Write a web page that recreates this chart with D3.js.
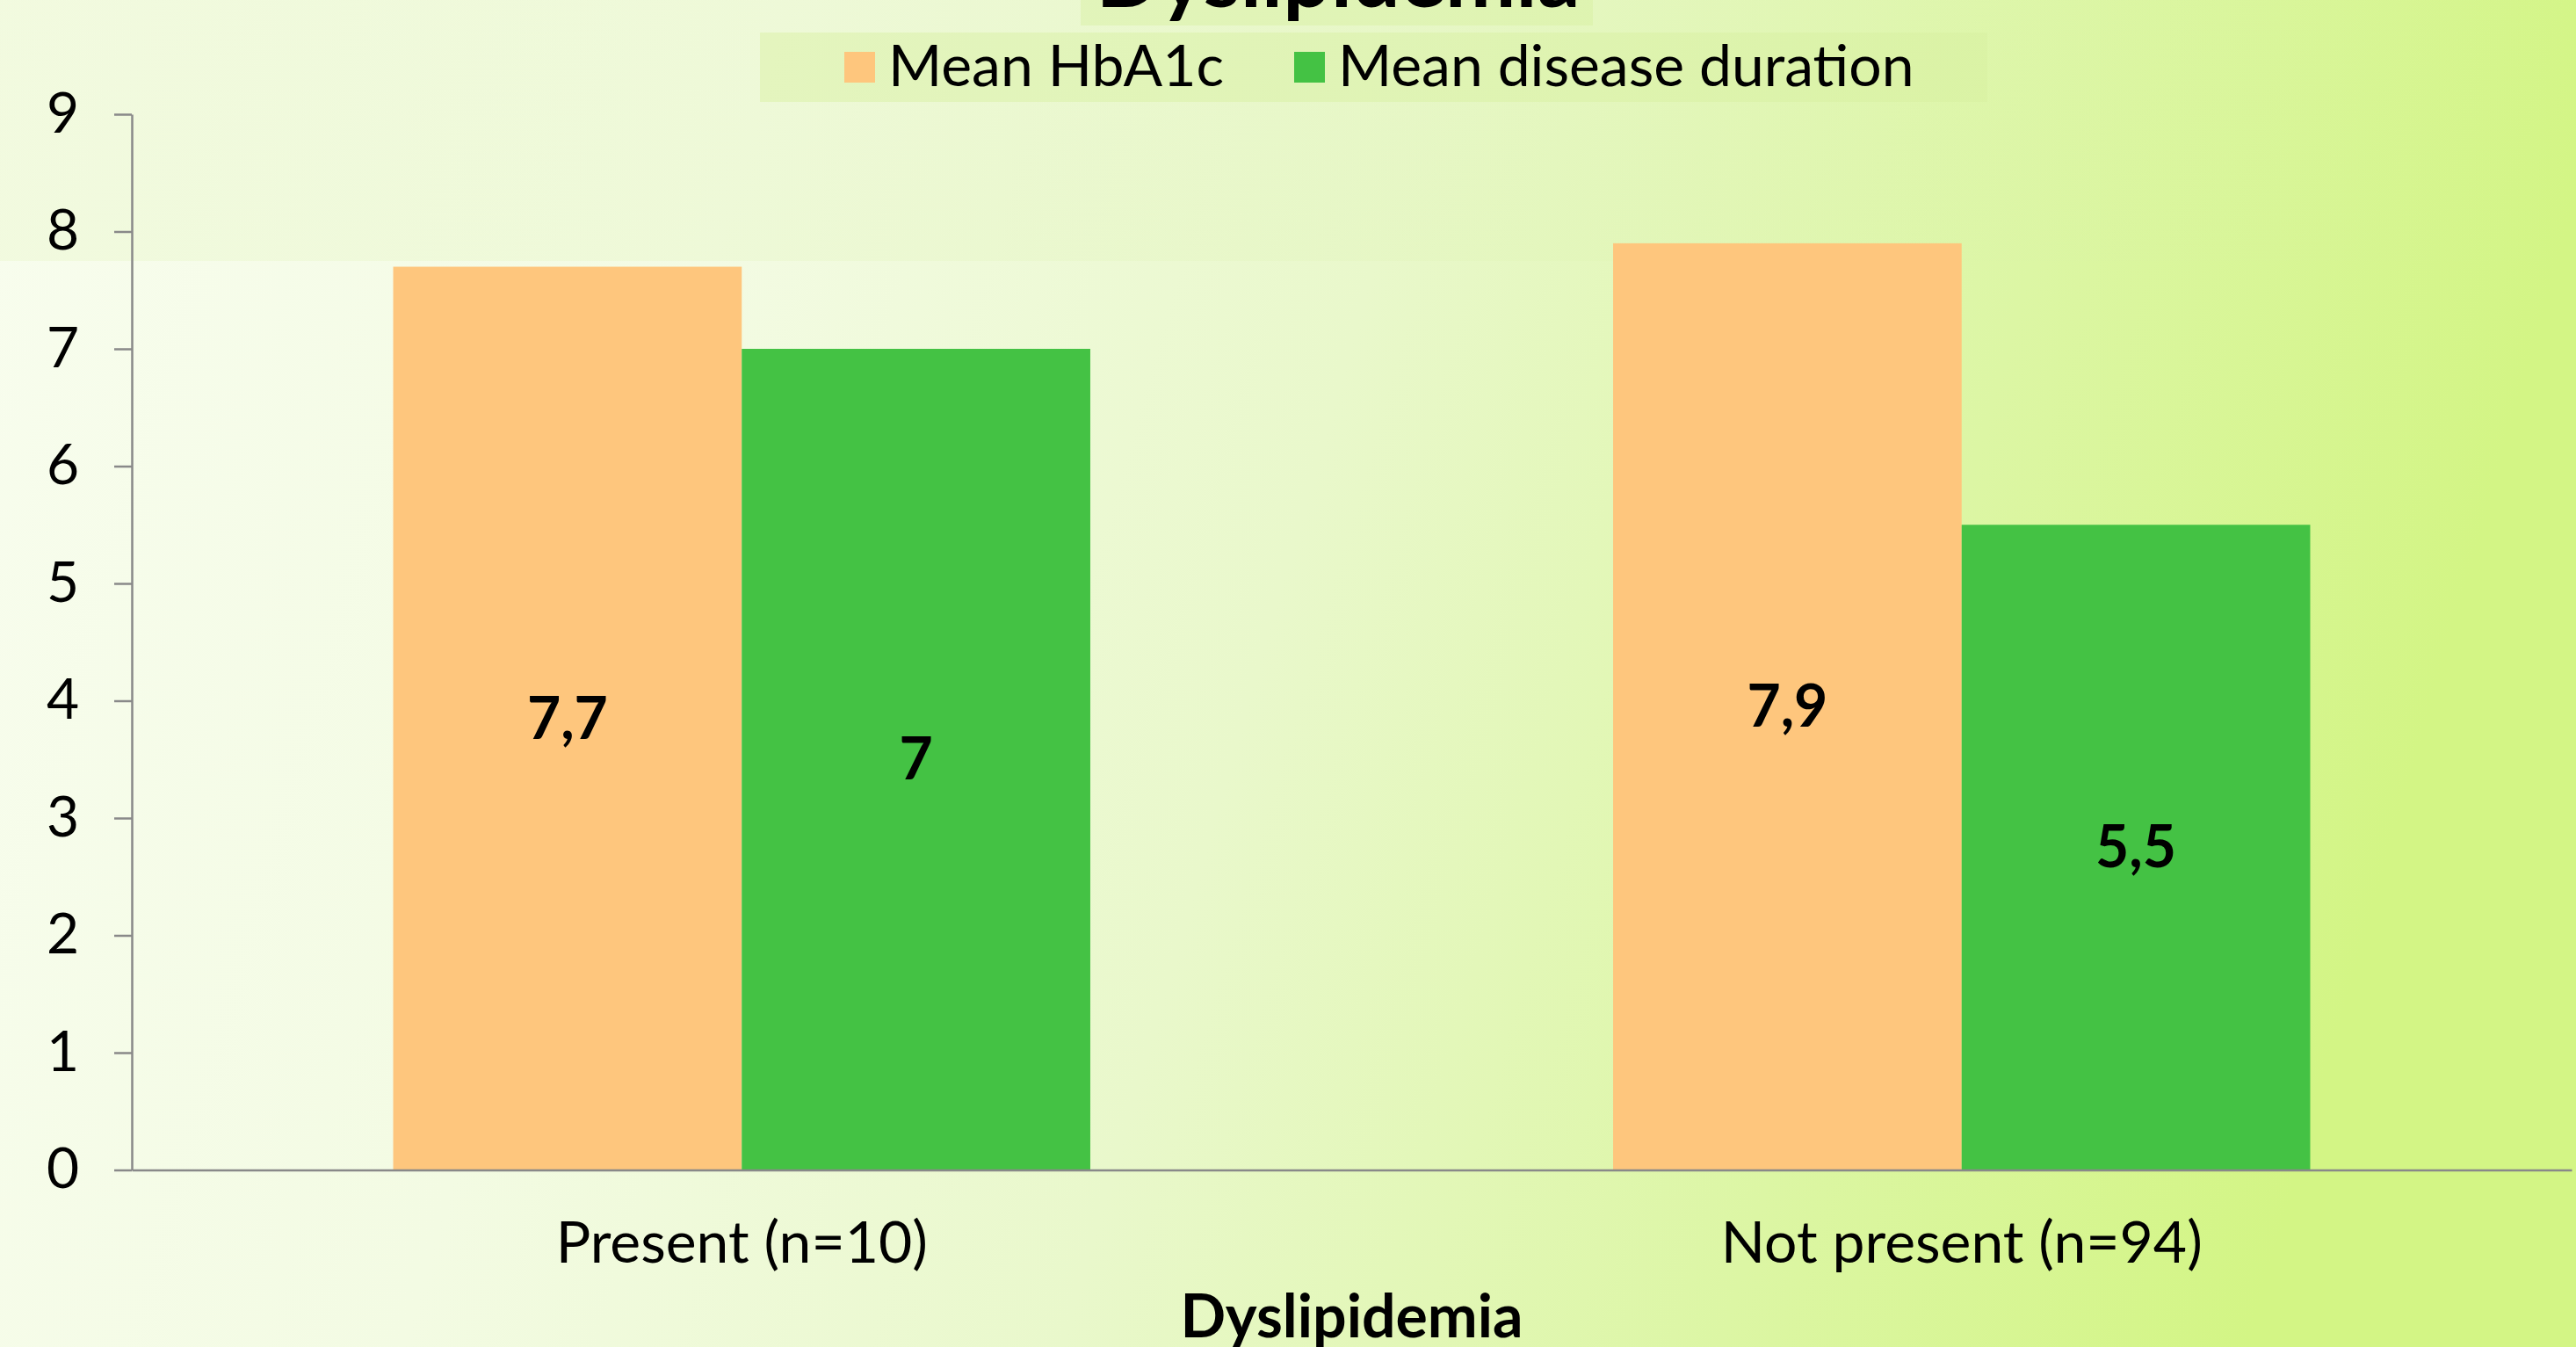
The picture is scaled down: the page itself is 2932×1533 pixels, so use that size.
<!DOCTYPE html>
<html>
<head>
<meta charset="utf-8">
<script src="https://cdn.jsdelivr.net/npm/d3@7"></script>
<style>
  html, body { margin: 0; padding: 0; overflow: hidden; }
  svg { display: block; }
  text { font-family: Lato, "Open Sans", sans-serif; fill: #000; }
</style>
</head>
<body>
<script>
// ---- data ----
const categories = ["Present (n=10)", "Not present (n=94)"];
const seriesNames = ["Mean HbA1c", "Mean disease duration"];
const meanHbA1c = [7.7, 7.9];
const meanDiseaseDuration = [7, 5.5];
const yTickValues = [0, 1, 2, 3, 4, 5, 6, 7, 8, 9];
const chartTitle = "Dyslipidemia";
const xAxisTitle = "Dyslipidemia";
const seriesColors = ["#FEC67D", "#44C244"];

// ---- layout ----
const W = 2932, H = 1533;
const plot = { left: 150, right: 2927, top: 130, bottom: 1331.5 };

const svg = d3.select("body").append("svg").attr("width", W).attr("height", H);

// background gradient
const defs = svg.append("defs");
const bg = defs.append("linearGradient").attr("id", "bg").attr("x1", "0").attr("y1", "0").attr("x2", "1").attr("y2", "0.15");
[["0%", "#f8fdee"], ["30%", "#f3fbe3"], ["55%", "#e9f8cb"], ["80%", "#dcf6a4"], ["100%", "#d3f585"]]
  .forEach(([o, c]) => bg.append("stop").attr("offset", o).attr("stop-color", c));
svg.append("rect").attr("width", W).attr("height", H).attr("fill", "url(#bg)");
// subtle darker band at the top
const band = defs.append("linearGradient").attr("id", "band").attr("x1", "0").attr("x2", "1");
band.append("stop").attr("offset", "0%").attr("stop-color", "#e6f5c4").attr("stop-opacity", 0.35);
band.append("stop").attr("offset", "60%").attr("stop-color", "#d8f0a6").attr("stop-opacity", 0.15);
band.append("stop").attr("offset", "100%").attr("stop-color", "#d8f0a6").attr("stop-opacity", 0);
svg.append("rect").attr("x", 0).attr("y", 0).attr("width", W).attr("height", 297).attr("fill", "url(#band)");

// scales
const y = d3.scaleLinear().domain([0, 9]).range([plot.bottom, plot.top]);
const x0 = d3.scaleBand().domain(categories).range([plot.left, plot.right]).padding(0);
const x1 = d3.scaleBand().domain(seriesNames).range([0, x0.bandwidth()]).paddingInner(0).paddingOuter(0.75);
const color = d3.scaleOrdinal().domain(seriesNames).range(seriesColors);

const rows = categories.map((c, i) => ({ cat: c, values: [meanHbA1c[i], meanDiseaseDuration[i]] }));
const commaFmt = d3.formatLocale({ decimal: ",", thousands: ".", grouping: [3], currency: ["", ""] }).format("~g");

// bars
const groups = svg.append("g").selectAll("g").data(rows).join("g")
  .attr("transform", d => `translate(${x0(d.cat)},0)`);
groups.selectAll("rect").data(d => seriesNames.map((s, j) => ({ s, v: d.values[j] }))).join("rect")
  .attr("x", d => x1(d.s)).attr("width", x1.bandwidth())
  .attr("y", d => y(d.v)).attr("height", d => y(0) - y(d.v))
  .attr("fill", d => color(d.s));
groups.selectAll("text.val").data(d => seriesNames.map((s, j) => ({ s, v: d.values[j] }))).join("text")
  .attr("class", "val")
  .attr("x", d => x1(d.s) + x1.bandwidth() / 2)
  .attr("y", d => (y(d.v) + y(0)) / 2)
  .attr("dy", "0.35em")
  .attr("text-anchor", "middle")
  .style("font-size", "66px").style("font-weight", "bold")
  .text(d => commaFmt(d.v));

// y axis
const yAxis = svg.append("g").attr("transform", `translate(${plot.left},0)`)
  .call(d3.axisLeft(y).tickValues(yTickValues).tickSize(20).tickPadding(40).tickSizeOuter(0));
yAxis.select(".domain").attr("stroke", "#898989").attr("stroke-width", 2.5);
yAxis.selectAll(".tick line").attr("stroke", "#898989").attr("stroke-width", 2.5);
yAxis.selectAll(".tick text").style("font-size", "64px").style("font-family", "Lato, sans-serif").attr("fill", "#000");

// x axis
const xAxis = svg.append("g").attr("transform", `translate(0,${plot.bottom})`)
  .call(d3.axisBottom(x0).tickSize(0).tickPadding(0).tickSizeOuter(0));
xAxis.select(".domain").attr("stroke", "#898989").attr("stroke-width", 2.5);
xAxis.selectAll(".tick text").attr("y", 105).attr("dy", 0)
  .style("font-size", "66px").style("font-family", "Lato, sans-serif").attr("fill", "#000");

// x axis title
svg.append("text").attr("x", (plot.left + plot.right) / 2).attr("y", 1522)
  .attr("text-anchor", "middle").style("font-size", "68px").style("font-weight", "bold")
  .text(xAxisTitle);

// chart title (mostly clipped at top)
svg.append("rect").attr("x", 1230).attr("y", 0).attr("width", 583).attr("height", 29)
  .attr("fill", "#d6f0a0").attr("opacity", 0.45);
svg.append("text").attr("x", 1523).attr("y", 8)
  .attr("text-anchor", "middle").style("font-size", "96px").style("font-weight", "bold")
  .text(chartTitle);

// legend
const legend = svg.append("g");
legend.append("rect").attr("x", 865).attr("y", 37).attr("width", 1397).attr("height", 79)
  .attr("fill", "#d6f0a0").attr("opacity", 0.45);
const legendX = [961, 1473];
seriesNames.forEach((s, i) => {
  legend.append("rect").attr("x", legendX[i]).attr("y", 59).attr("width", 35).attr("height", 35).attr("fill", color(s));
  legend.append("text").attr("x", legendX[i] + 50).attr("y", 98)
    .style("font-size", "66px").text(s);
});
</script>
</body>
</html>
